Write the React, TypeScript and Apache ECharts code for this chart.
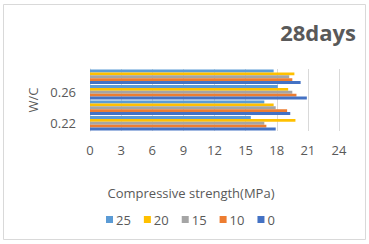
import React, { useEffect, useRef } from "react";
import * as echarts from "echarts";

const categories = ["0.22", "0.24", "0.26", "0.28"];
const seriesNames = ["25", "20", "15", "10", "0"];
const s25 = [15.5, 16.8, 18.1, 17.7];
const s20 = [19.8, 17.7, 19.1, 19.7];
const s15 = [16.8, 17.9, 19.5, 19.2];
const s10 = [17.0, 19.0, 19.9, 19.5];
const s0 = [17.9, 19.3, 20.9, 20.3];
const seriesValues = [s25, s20, s15, s10, s0];
const colors = ["#5B9BD5", "#FFC000", "#A5A5A5", "#ED7D31", "#4472C4"];
const xTicks = { min: 0, max: 24, interval: 3 };

export default function App() {
  const ref = useRef<HTMLDivElement>(null);
  useEffect(() => {
    if (!ref.current) return;
    const chart = echarts.init(ref.current, undefined, { renderer: "svg" });
    const font = "Open Sans";
    const txt = "#595959";
    chart.setOption({
      animation: false,
      backgroundColor: "#ffffff",
      textStyle: { fontFamily: font },
      title: {
        text: "28days",
        right: 8,
        top: 16,
        textStyle: { fontFamily: font, fontWeight: "bold", fontSize: 22, color: txt },
      },
      legend: {
        data: seriesNames,
        left: 101,
        top: 208,
        itemWidth: 7,
        itemHeight: 7,
        itemGap: 13,
        icon: "rect",
        textStyle: { fontFamily: font, fontSize: 13, color: txt, padding: [0, 0, 0, -2] },
      },
      grid: { left: 90, right: 30, top: 69, bottom: 113, containLabel: false },
      xAxis: {
        type: "value",
        min: xTicks.min,
        max: xTicks.max,
        interval: xTicks.interval,
        axisLine: { show: false },
        axisTick: { show: false },
        splitLine: { lineStyle: { color: "#d9d9d9", width: 1 } },
        axisLabel: { color: txt, fontSize: 13, margin: 12, fontFamily: font },
      },
      yAxis: {
        type: "category",
        data: categories,
        name: "W/C",
        nameLocation: "middle",
        nameGap: 50,
        nameRotate: 90,
        nameTextStyle: { color: txt, fontSize: 13, fontFamily: font },
        axisLine: { show: true, lineStyle: { color: "#d9d9d9" } },
        axisTick: { show: false },
        axisLabel: { interval: 1, color: txt, fontSize: 13, margin: 14, fontFamily: font },
      },
      graphic: [
        {
          type: "rect",
          shape: { x: 3.5, y: 4.5, width: 362, height: 235 },
          style: { fill: "none", stroke: "#d9d9d9", lineWidth: 1 },
          silent: true,
        },
        {
          type: "text",
          x: 191,
          y: 193,
          style: {
            text: "Compressive strength(MPa)",
            fill: txt,
            fontSize: 13,
            fontFamily: font,
            align: "center",
            verticalAlign: "middle",
          },
        },
      ],
      series: seriesNames.map((n, i) => ({
        name: n,
        type: "bar",
        data: seriesValues[i],
        itemStyle: { color: colors[i] },
        barGap: "0%",
        barCategoryGap: "8%",
      })),
    });
    return () => chart.dispose();
  }, []);
  return (
    <div
      ref={ref}
      style={{ position: "fixed", left: 0, top: 0, width: 369, height: 244 }}
    />
  );
}
